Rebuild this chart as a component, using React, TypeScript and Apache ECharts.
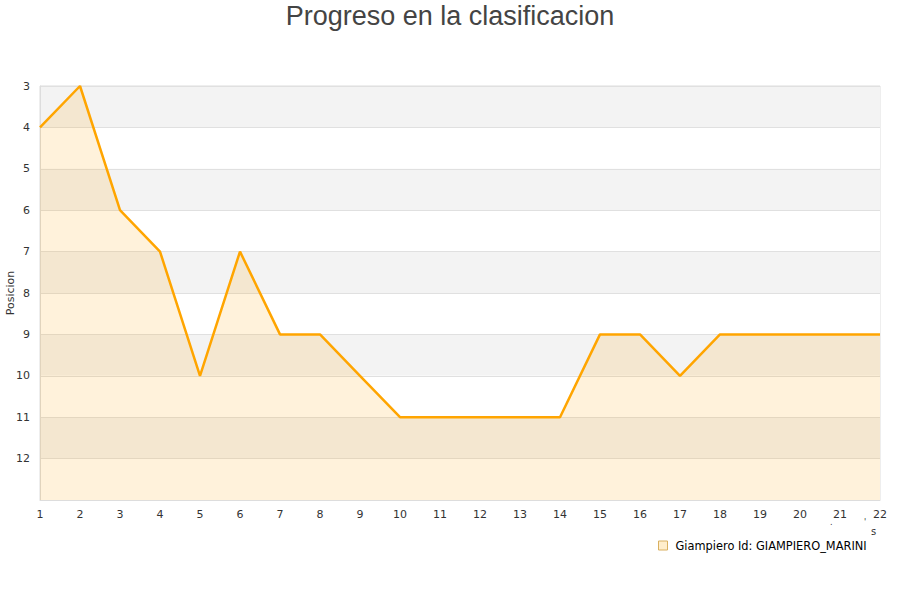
import React, { useEffect, useRef } from "react";
import * as echarts from "echarts";

const rounds = ["1","2","3","4","5","6","7","8","9","10","11","12","13","14","15","16","17","18","19","20","21","22"];
const positions = [4,3,6,7,10,7,9,9,10,11,11,11,11,11,9,9,10,9,9,9,9,9];
const seriesName = "Giampiero Id: GIAMPIERO_MARINI";
const titleText = "Progreso en la clasificacion";

export default function App() {
  const ref = useRef<HTMLDivElement>(null);
  useEffect(() => {
    document.body.style.margin = "0";
    const chart = echarts.init(ref.current!, null, { renderer: "svg" });
    chart.setOption({
      animation: false,
      backgroundColor: "#fff",
      title: {
        text: titleText,
        left: "center",
        top: -3,
        textStyle: { fontFamily: "Liberation Sans", fontSize: 27, fontWeight: "normal", color: "#444" },
      },
      grid: {
        left: 40, right: 20, top: 86, bottom: 100,
        show: true, borderColor: "#ddd", borderWidth: 1,
        containLabel: false, outerBoundsMode: "none",
      },
      legend: {
        left: 653,
        top: 535,
        icon: "rect",
        itemWidth: 9,
        itemHeight: 9,
        itemGap: 8,
        data: [{ name: seriesName, itemStyle: { color: "#ffeecc", borderColor: "#d9b060", borderWidth: 1 } }],
        textStyle: { fontFamily: "DejaVu Sans", fontSize: 11.4, color: "#000", padding: [0, 0, 0, 3] },
      },
      xAxis: {
        type: "category",
        data: rounds,
        boundaryGap: false,
        axisLine: { lineStyle: { color: "#ddd" } },
        axisTick: { show: false },
        axisLabel: { fontFamily: "DejaVu Sans", fontSize: 11, color: "#333", margin: 9 },
        splitLine: { show: false },
      },
      yAxis: {
        type: "value",
        inverse: true,
        min: 3,
        max: 13,
        interval: 1,
        name: "Posicion",
        nameLocation: "middle",
        nameGap: 24,
        nameMoveOverlap: false,
        nameTextStyle: { fontFamily: "DejaVu Sans", fontSize: 11, color: "#333" },
        axisLine: { show: true, lineStyle: { color: "#ddd" } },
        axisTick: { show: false },
        axisLabel: {
          fontFamily: "DejaVu Sans",
          fontSize: 11,
          color: "#333",
          margin: 10,
          formatter: (v: number) => (v === 13 ? "" : String(v)),
        },
        splitLine: { show: true, lineStyle: { color: "#e0e0e0" } },
        splitArea: { show: true, areaStyle: { color: ["#f3f3f3", "#ffffff"] } },
      },
      graphic: [
        { type: "text", left: 871, top: 526, style: { text: "s", fontFamily: "DejaVu Sans", fontSize: 10, fill: "#333" } },
        { type: "text", left: 830, top: 518, style: { text: ".", fontFamily: "DejaVu Sans", fontSize: 8, fill: "#333" } },
        { type: "text", left: 864, top: 518, style: { text: "'", fontFamily: "DejaVu Sans", fontSize: 8, fill: "#333" } },
      ],
      series: [
        {
          name: seriesName,
          type: "line",
          data: positions,
          symbol: "none",
          lineStyle: { color: "#ffa500", width: 2.5 },
          itemStyle: { color: "#ffa500" },
          areaStyle: { color: "rgba(255,165,0,0.2)", origin: "end" },
        },
      ],
    });
    return () => chart.dispose();
  }, []);
  return <div ref={ref} style={{ width: 900, height: 600 }} />;
}
